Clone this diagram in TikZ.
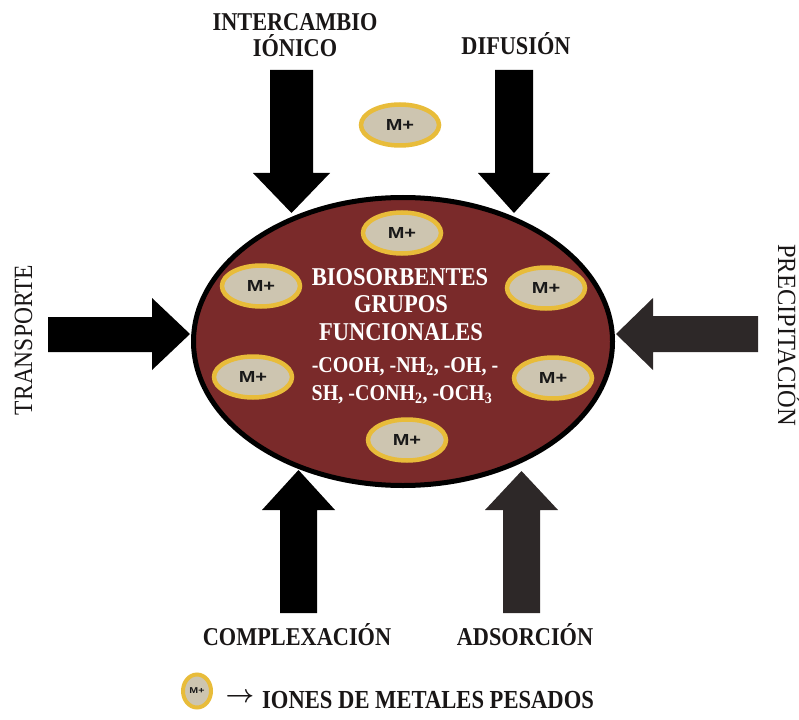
\documentclass[tikz,border=0pt]{standalone}
\usepackage{fontspec}
\usepackage{graphicx}
\setmainfont{Liberation Serif}
\newfontfamily\mpfont{Liberation Sans}
\usetikzlibrary{shapes.geometric}
\definecolor{biored}{RGB}{122,42,42}
\definecolor{ionfill}{RGB}{205,197,176}
\definecolor{iondraw}{RGB}{232,188,58}
\definecolor{darkarrow}{RGB}{45,40,40}
\definecolor{labelink}{RGB}{25,22,22}
\newcommand\Mplus{\scalebox{1.25}[1]{M+}}
\begin{document}
\begin{tikzpicture}[x=1pt,y=-1pt,
  ion/.style={ellipse, draw=iondraw, fill=ionfill, line width=4.5pt,
    minimum width=78pt, minimum height=41pt, inner sep=0pt,
    font=\mpfont\bfseries\fontsize{16}{16}\selectfont, text=black!90},
  lbl/.style={font=\bfseries\fontsize{22.3}{24}\selectfont, text=labelink,
    inner sep=0pt, anchor=base, yscale=1.15},
  sidelbl/.style={font=\fontsize{23.5}{24}\selectfont, text=labelink,
    inner sep=0pt, anchor=base},
  biotext/.style={text=white, inner sep=0pt, anchor=base,
    font=\bfseries\fontsize{22.5}{24}\selectfont, yscale=1.14},
  chem/.style={text=white, inner sep=0pt, anchor=base,
    font=\bfseries\fontsize{20}{22}\selectfont, yscale=1.13},
  blk/.style={fill=black},
  gry/.style={fill=darkarrow}
]
\useasboundingbox (0,0) rectangle (799,719);

% block arrows
\fill[blk] (270,70) -- (313,70) -- (313,173) -- (330,173) -- (291.5,213)
  -- (253,173) -- (270,173) -- cycle;
\fill[blk] (495,70) -- (533,70) -- (533,173) -- (550,173) -- (514,213)
  -- (478,173) -- (495,173) -- cycle;
\fill[blk] (48,317) -- (152,317) -- (152,298) -- (190,334) -- (152,370)
  -- (152,352) -- (48,352) -- cycle;
\fill[gry] (758,316) -- (653,316) -- (653,298) -- (616,334) -- (653,370)
  -- (653,352) -- (758,352) -- cycle;
\fill[blk] (280,613) -- (280,510) -- (262,510) -- (298.5,470) -- (335,510)
  -- (317,510) -- (317,613) -- cycle;
\fill[gry] (503,613) -- (503,510) -- (485,510) -- (521.5,471) -- (558,510)
  -- (540,510) -- (540,613) -- cycle;

% main ellipse
\node (bio) [ellipse, draw=black, line width=5pt, fill=biored,
  minimum width=419pt, minimum height=288pt, inner sep=0pt] at (403,341.5) {};

% ions
\node (mout) [ion] at (400,125) {\Mplus};
\node (mtop) [ion] at (402,233) {\Mplus};
\node (mul)  [ion] at (261,286) {\Mplus};
\node (mur)  [ion] at (546,288) {\Mplus};
\node (mll)  [ion] at (253,377) {\Mplus};
\node (mlr)  [ion] at (553,378) {\Mplus};
\node (mbot) [ion] at (407,440) {\Mplus};

% inner text
\node (t1) [biotext] at (400,285) {BIOSORBENTES};
\node (t2) [biotext] at (401,312) {GRUPOS};
\node (t3) [biotext] at (401,340) {FUNCIONALES};
\node (t4) [chem] at (405,372) {-COOH, -NH\textsubscript{2}, -OH, -};
\node (t5) [chem] at (402,400) {SH, -CONH\textsubscript{2}, -OCH\textsubscript{3}};

% labels
\node (lint1) [lbl] at (295,31) {INTERCAMBIO};
\node (lint2) [lbl] at (295,56.5) {IÓNICO};
\node (ldif)  [lbl] at (516,55) {DIFUSIÓN};
\node (lcom)  [lbl] at (297,645) {COMPLEXACIÓN};
\node (lads)  [lbl] at (525,645) {ADSORCIÓN};
\node (ltra)  [sidelbl, rotate=90, yscale=1.12] at (32,340) {TRANSPORTE};
\node (lpre)  [sidelbl, rotate=-90, yscale=1.07, font=\fontsize{24.5}{24}\selectfont] at (778,335) {PRECIPITACIÓN};

% legend
\node (leg) [ellipse, draw=iondraw, fill=ionfill, line width=4pt,
  minimum width=28pt, minimum height=33pt, inner sep=0pt, text=black!90,
  font=\mpfont\bfseries\fontsize{8.5}{8.5}\selectfont] at (197,691) {\Mplus};
\node (legarr) [inner sep=0pt, font=\fontsize{25}{25}\selectfont\boldmath, text=labelink] at (240,698) {$\rightarrow$};
\node (legtxt) [lbl, anchor=base west, font=\bfseries\fontsize{22.6}{24}\selectfont] at (262,708) {IONES DE METALES PESADOS};
\end{tikzpicture}
\end{document}
